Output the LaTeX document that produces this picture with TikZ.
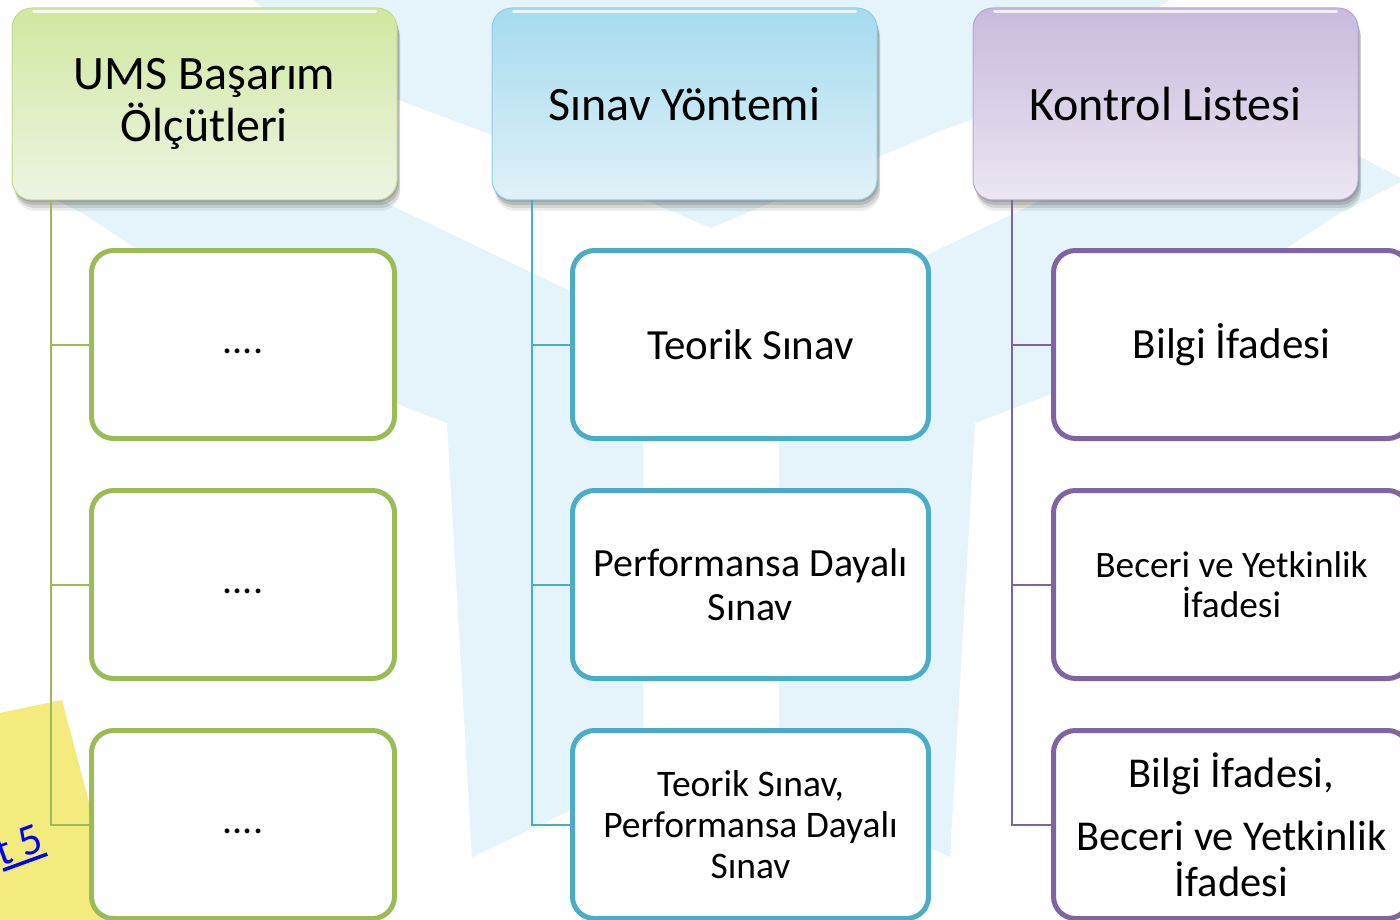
\documentclass[tikz,border=0pt]{standalone}
\usepackage{fontspec}
\setmainfont{Carlito}
\usetikzlibrary{shadows}
\definecolor{bgblue}{HTML}{E5F4FB}
\definecolor{notey}{HTML}{F3EB7E}
\definecolor{umsgreen}{HTML}{9BBB59}
\definecolor{umsblue}{HTML}{4BACC6}
\definecolor{umspurple}{HTML}{8064A2}
\definecolor{gtop}{HTML}{D0E8A0}
\definecolor{gbot}{HTML}{EDF4E3}
\definecolor{gedge}{HTML}{C2DA93}
\definecolor{btop}{HTML}{A6DBEF}
\definecolor{bbot}{HTML}{E0F1F8}
\definecolor{bedge}{HTML}{93CDE3}
\definecolor{ptop}{HTML}{C8BADD}
\definecolor{pbot}{HTML}{ECE6F2}
\definecolor{pedge}{HTML}{B7A7D0}
\definecolor{linkblue}{HTML}{0000FF}
\begin{document}
\begin{tikzpicture}[x=1pt,y=-1pt,
  hdr/.style={rectangle, rounded corners=20pt, minimum width=385pt, minimum height=192pt,
    inner sep=0pt, align=center, line width=1pt, font=\fontsize{48}{52}\selectfont,
    general shadow={shadow xshift=1pt, shadow yshift=-2pt, opacity=0.12, fill=black},
    general shadow={shadow xshift=2pt, shadow yshift=-5pt, opacity=0.12, fill=black},
    general shadow={shadow xshift=3pt, shadow yshift=-8pt, opacity=0.10, fill=black},
    general shadow={shadow xshift=3pt, shadow yshift=-11pt, opacity=0.07, fill=black}},
  ghdr/.style={hdr, top color=gtop, bottom color=gbot, draw=gedge},
  bhdr/.style={hdr, top color=btop, bottom color=bbot, draw=bedge},
  phdr/.style={hdr, top color=ptop, bottom color=pbot, draw=pedge},
  shine/.style={white, opacity=0.75, line width=3pt, line cap=round},
  kid/.style={rectangle, rounded corners=22pt, minimum width=356pt, minimum height=188pt,
    inner sep=0pt, fill=white, line width=5pt, align=center, font=\fontsize{40}{44}\selectfont},
  gkid/.style={kid, draw=umsgreen, minimum width=303pt},
  bkid/.style={kid, draw=umsblue},
  pkid/.style={kid, draw=umspurple},
  gline/.style={draw=umsgreen, line width=2pt},
  bline/.style={draw=umsblue, line width=2pt},
  pline/.style={draw=umspurple, line width=2pt}]
\useasboundingbox (0,0) rectangle (1400,920);
\fill[white] (0,0) rectangle (1400,920);
% watermark logo
\fill[bgblue] (253,0) -- (1169,0) -- (1042,93) -- (930,135) -- (711,228) -- (492,135) -- (380,93) -- cycle;
\fill[bgblue] (17,180) -- (172,100) -- (380,200) -- (643,326) -- (643,776) -- (567,812) -- (472,857)
  -- (447,423) -- (342,383) -- (82,213) -- cycle;
\fill[bgblue] (1405,180) -- (1250,100) -- (1042,200) -- (779,326) -- (779,776) -- (855,812) -- (950,857)
  -- (975,423) -- (1080,383) -- (1340,213) -- cycle;
% sticky note
\fill[notey] (-5,714) -- (62,700) -- (120,920) -- (-5,920) -- cycle;
% headers
\node[ghdr] (h1) at (204.5,104) {UMS Başarım\\Ölçütleri};
\node[bhdr] (h2) at (684.5,104) {Sınav Yöntemi};
\node[phdr] (h3) at (1165.5,104) {Kontrol Listesi};
\foreach \h in {h1,h2,h3}{
  \draw[shine] ([xshift=22pt,yshift=-4pt]\h.north west) -- ([xshift=-22pt,yshift=-4pt]\h.north east);
}
% children
\node[gkid] (b11) at (243,344.5) {\strut....};
\node[gkid] (b12) at (243,584.5) {\strut....};
\node[gkid] (b13) at (243,824.5) {\strut....};
\node[bkid, font=\fontsize{43}{47}\selectfont] (b21) at (750.5,344.5) {Teorik Sınav};
\node[bkid] (b22) at (750.5,584.5) {Performansa Dayalı\\Sınav};
\node[bkid, font=\fontsize{37.5}{41}\selectfont] (b23) at (750.5,824.5) {Teorik Sınav,\\Performansa Dayalı\\Sınav};
\node[pkid, font=\fontsize{43}{47}\selectfont] (b31) at (1231.5,344.5) {Bilgi İfadesi};
\node[pkid, font=\fontsize{37.3}{40}\selectfont] (b32) at (1231.5,584.5) {Beceri ve Yetkinlik\\İfadesi};
\node[pkid, font=\fontsize{42.5}{46}\selectfont] (b33) at (1231.5,824.5) {Bilgi İfadesi,\\[17pt]Beceri ve Yetkinlik\\İfadesi};
% connectors
\coordinate (s1) at ([xshift=39pt]h1.south west);
\coordinate (s2) at ([xshift=40pt]h2.south west);
\coordinate (s3) at ([xshift=39pt]h3.south west);
\draw[gline] (s1) |- (b13.west);
\draw[gline] (s1 |- b11.west) -- (b11.west);
\draw[gline] (s1 |- b12.west) -- (b12.west);
\draw[bline] (s2) |- (b23.west);
\draw[bline] (s2 |- b21.west) -- (b21.west);
\draw[bline] (s2 |- b22.west) -- (b22.west);
\draw[pline] (s3) |- (b33.west);
\draw[pline] (s3 |- b31.west) -- (b31.west);
\draw[pline] (s3 |- b32.west) -- (b32.west);
% link text
\node[rotate=20, anchor=base east, inner sep=0pt, text=linkblue, font=\fontsize{44}{48}\selectfont] (lnk) at (46,850)
  {\setbox0=\hbox{t 5}\rlap{\rule[-6pt]{\wd0}{3.5pt}}\box0};
\end{tikzpicture}
\end{document}
